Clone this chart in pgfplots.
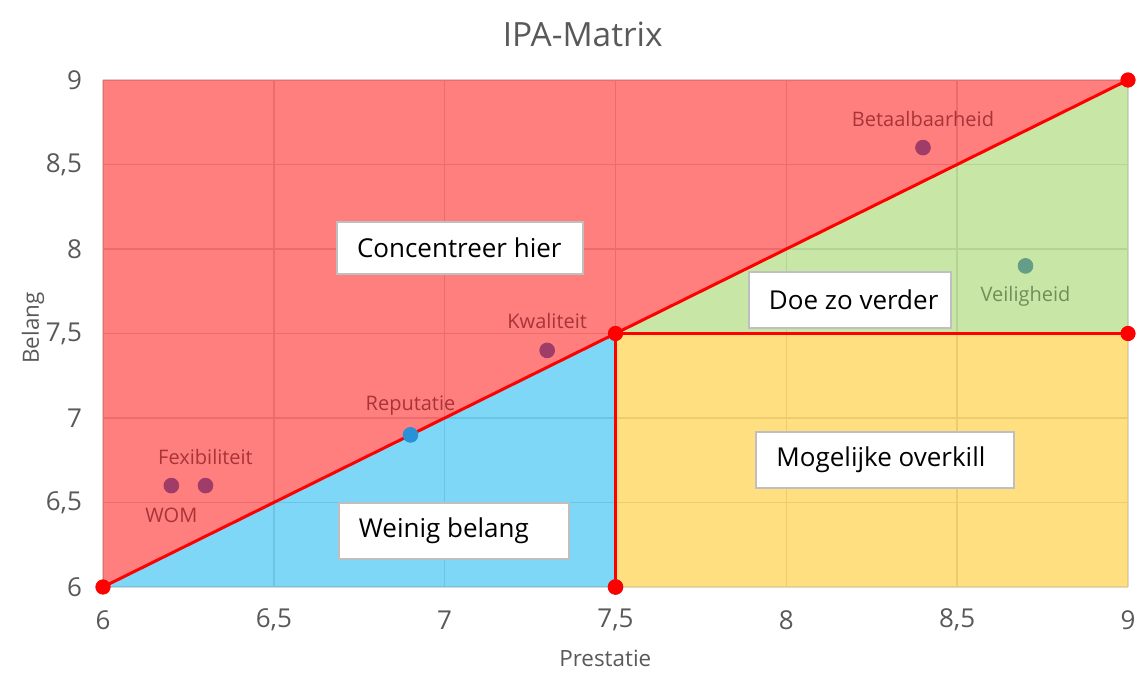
\documentclass[border=0pt]{standalone}
\usepackage{pgfplots}
\pgfplotsset{compat=1.18}
\usepackage{pgfplotstable}
\usepackage{fontspec}
\setmainfont{Open Sans}
\definecolor{redA}{RGB}{255,0,0}
\definecolor{greenA}{RGB}{146,208,80}
\definecolor{blueA}{RGB}{0,176,240}
\definecolor{yellowA}{RGB}{255,192,0}
\definecolor{ptred}{RGB}{160,60,104}
\definecolor{ptblue}{RGB}{40,145,215}
\definecolor{ptgreen}{RGB}{100,158,136}
\definecolor{lblred}{RGB}{168,52,56}
\definecolor{lblgreen}{RGB}{112,142,86}
\definecolor{txtgray}{RGB}{89,89,89}
\definecolor{gridgray}{RGB}{217,217,217}
\definecolor{boxgray}{RGB}{191,191,191}

\pgfplotstableread{
x y label
6.3 6.6 Fexibiliteit
7.3 7.4 Kwaliteit
8.4 8.6 Betaalbaarheid
}\redabove
\pgfplotstableread{
x y label
6.2 6.6 WOM
}\redbelow
\pgfplotstableread{
x y label
6.9 6.9 Reputatie
}\blueabove
\pgfplotstableread{
x y label
8.7 7.9 Veiligheid
}\greenbelow

\begin{document}
\begin{tikzpicture}
\begin{axis}[
  scale only axis,
  width=512.5pt, height=253.5pt,
  xmin=6, xmax=9, ymin=6, ymax=9,
  xtick={6,6.5,7,7.5,8,8.5,9},
  ytick={6,6.5,7,7.5,8,8.5,9},
  grid=major,
  major grid style={gridgray, line width=0.8pt},
  major tick length=0pt,
  axis x line*=bottom,
  axis y line*=left,
  x axis line style={gridgray, line width=0.8pt, -},
  y axis line style={draw=none},
  /pgf/number format/.cd, use comma, assume math mode=true, /pgfplots/.cd,
  tick label style={font=\fontsize{13}{15}\selectfont, text=txtgray},
  xticklabel style={anchor=center, yshift=-16.5pt},
  yticklabel style={anchor=east, xshift=-7pt},
  xlabel={Prestatie},
  ylabel={Belang},
  every axis x label/.style={at={(axis description cs:0.49,-0.140)}, anchor=center, font=\fontsize{11.2}{13}\selectfont, text=txtgray},
  every axis y label/.style={at={(axis description cs:-0.0683,0.511)}, rotate=90, anchor=center, font=\fontsize{11.2}{13}\selectfont, text=txtgray},
  title={IPA-Matrix},
  title style={font=\fontsize{16.7}{19}\selectfont, text=txtgray, at={(axis description cs:0.468,1)}, anchor=center, yshift=17pt},
  clip=false,
  lblabove/.style={nodes near coords, point meta=explicit symbolic,
    every node near coord/.style={font=\fontsize{10}{12}\selectfont, text=#1, anchor=center, yshift=14.5pt}},
  lblbelow/.style={nodes near coords, point meta=explicit symbolic,
    every node near coord/.style={font=\fontsize{10}{12}\selectfont, text=#1, anchor=center, yshift=-15pt}},
]
% areas
\addplot[fill=redA, fill opacity=0.5, draw=none] coordinates {(6,6) (6,9) (9,9)} -- cycle;
\addplot[fill=greenA, fill opacity=0.5, draw=none] coordinates {(7.5,7.5) (9,9) (9,7.5)} -- cycle;
\addplot[fill=blueA, fill opacity=0.5, draw=none] coordinates {(6,6) (7.5,7.5) (7.5,6)} -- cycle;
\addplot[fill=yellowA, fill opacity=0.5, draw=none] coordinates {(7.5,6) (7.5,7.5) (9,7.5) (9,6)} -- cycle;
% data points (colours as seen through the semi-transparent areas)
\addplot[only marks, mark=*, mark size=3.7pt, color=ptred, lblabove=lblred]
  table[x=x, y=y, meta=label] {\redabove};
\addplot[only marks, mark=*, mark size=3.7pt, color=ptred, lblbelow=lblred]
  table[x=x, y=y, meta=label] {\redbelow};
\addplot[only marks, mark=*, mark size=3.7pt, color=ptblue, lblabove=lblred]
  table[x=x, y=y, meta=label] {\blueabove};
\addplot[only marks, mark=*, mark size=3.7pt, color=ptgreen, lblbelow=lblgreen]
  table[x=x, y=y, meta=label] {\greenbelow};
\addplot[only marks, mark=*, mark size=3.7pt, color=ptred] coordinates {(7.5,6)};
% text boxes
\tikzset{qbox/.style={fill=white, draw=boxgray, line width=1pt, inner xsep=10pt, inner ysep=0pt, font=\fontsize{13}{15}\selectfont, text=black}}
\node[qbox, minimum height=26pt] at (axis cs:7.045,8.006) {\makebox[103pt][l]{Concentreer hier}};
\node[qbox, minimum height=28pt] at (axis cs:8.186,7.698) {\makebox[81pt][l]{Doe zo verder}};
\node[qbox, minimum height=28pt] at (axis cs:8.29,6.75) {\makebox[109pt][l]{Mogelijke overkill}};
\node[qbox, minimum height=28pt] at (axis cs:7.027,6.33) {\makebox[95pt][l]{Weinig belang}};
% red boundary lines and corner points
\addplot[redA, line width=1.5pt] coordinates {(6,6) (9,9)};
\addplot[redA, line width=1.5pt] coordinates {(7.5,7.5) (9,7.5)};
\addplot[redA, line width=1.5pt] coordinates {(7.5,7.5) (7.5,6)};
\addplot[only marks, mark=*, mark size=3.6pt, color=redA] coordinates {(6,6) (9,9) (7.5,7.5) (9,7.5) (7.5,6.0)};
\end{axis}
\pgfresetboundingbox
\path ([shift={(-51.5pt,-48pt)}]current axis.south west) rectangle ([shift={(8.5pt,40pt)}]current axis.north east);
\end{tikzpicture}
\end{document}
